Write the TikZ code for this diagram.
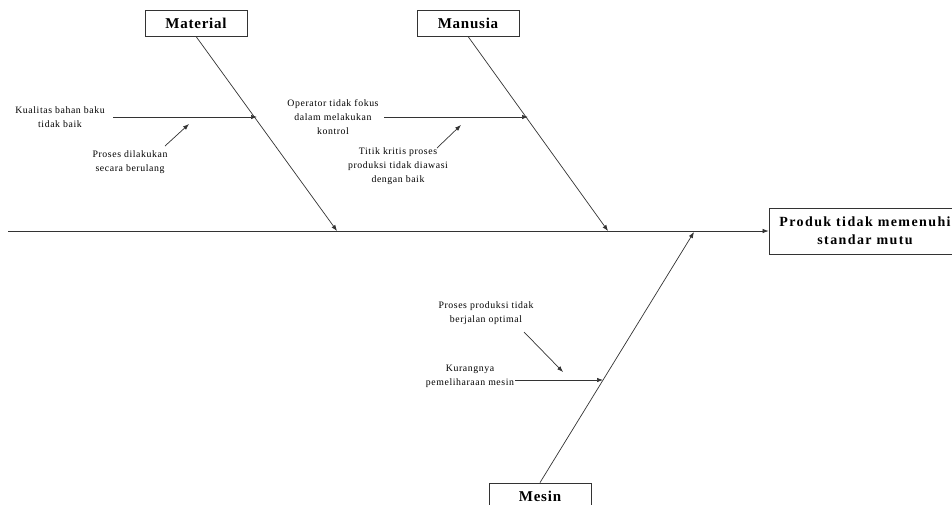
\documentclass[tikz,border=0pt]{standalone}
\usepackage{fontspec}
\setmainfont{Liberation Serif}
\newfontfamily\spacedsmall[LetterSpace=6]{Liberation Serif}
\newfontfamily\spacedcat[LetterSpace=5]{Liberation Serif}
\newfontfamily\spacedeff[LetterSpace=10]{Liberation Serif}
\usetikzlibrary{arrows.meta}
\begin{document}
\begin{tikzpicture}[x=1pt,y=-1pt,
  line/.style={draw=black!80, line width=0.7pt},
  arr/.style={line, -{Latex[length=6pt,width=4.5pt]}},
  catbox/.style={draw=black!80, line width=0.8pt, minimum width=102pt, minimum height=26pt, inner sep=0pt, font=\spacedcat\fontsize{15}{16}\selectfont\bfseries},
  effbox/.style={draw=black!80, line width=0.8pt, minimum width=192pt, minimum height=46pt, inner sep=0pt, align=center, font=\spacedeff\fontsize{14}{18}\selectfont\bfseries},
  cause/.style={align=center, inner sep=0pt, font=\spacedsmall\fontsize{9.8}{14}\selectfont}]
\clip (0,0) rectangle (952,504);
% boxes
\node[catbox] (mat) at (196,23) {Material};
\node[catbox] (man) at (468,23) {Manusia};
\node[catbox] (mes) at (540,496) {Mesin};
\node[effbox] (eff) at (865,231) {Produk tidak memenuhi\\standar mutu};
% spine
\coordinate (s0) at (8,231);
\draw[arr] (s0) -- (eff.west);
% main bones
\coordinate (mtip) at (337,231);
\coordinate (ntip) at (608,231);
\coordinate (ctip) at (694,232);
\draw[arr] (mat.south) -- (mtip);
\draw[arr] (man.south) -- (ntip);
\draw[arr] (mes.north) -- (ctip);
% Material causes
\node[cause] (c1) at (60,117) {Kualitas bahan baku\\tidak baik};
\coordinate (c1s) at (113,117);
\coordinate (c1t) at (257,117);
\draw[arr] (c1s) -- (c1t);
\node[cause] (c2) at (130,162) {Proses dilakukan\\secara berulang};
\coordinate (c2s) at (165,146);
\coordinate (c2t) at (189,124);
\draw[arr] (c2s) -- (c2t);
% Manusia causes
\node[cause] (c3) at (333,117) {Operator tidak fokus\\dalam melakukan\\kontrol};
\coordinate (c3s) at (384,117);
\coordinate (c3t) at (528,117);
\draw[arr] (c3s) -- (c3t);
\node[cause] (c4) at (398,166) {Titik kritis proses\\produksi tidak diawasi\\dengan baik};
\coordinate (c4s) at (437,148);
\coordinate (c4t) at (461,125);
\draw[arr] (c4s) -- (c4t);
% Mesin causes
\node[cause] (c5) at (486,313) {Proses produksi tidak\\berjalan optimal};
\coordinate (c5s) at (524,332);
\coordinate (c5t) at (563,372);
\draw[arr] (c5s) -- (c5t);
\node[cause] (c6) at (470,376) {Kurangnya\\pemeliharaan mesin};
\coordinate (c6s) at (515,380);
\coordinate (c6t) at (603,380);
\draw[arr] (c6s) -- (c6t);
\end{tikzpicture}
\end{document}
